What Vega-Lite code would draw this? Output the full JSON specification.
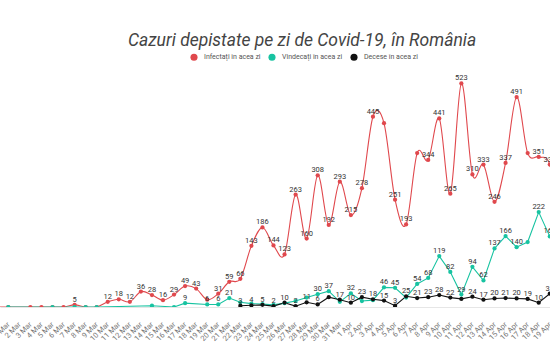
{
  "$schema": "https://vega.github.io/schema/vega-lite/v6.json",
  "autosize": "none",
  "width": 550,
  "height": 245,
  "padding": {"top": 62, "left": 0, "right": 0, "bottom": 55},
  "background": "white",
  "title": {
    "text": "Cazuri depistate pe zi de Covid-19, în România",
    "font": "Roboto",
    "fontStyle": "italic",
    "fontWeight": "normal",
    "fontSize": 17.5,
    "color": "#444444",
    "anchor": "middle",
    "dx": 27,
    "offset": 4
  },
  "config": {
    "view": {"stroke": null},
    "font": "Roboto"
  },
  "data": {
    "values": [
      {"d": "2020-02-29", "s": "Infectați în acea zi", "v": 0, "t": ""},
      {"d": "2020-03-01", "s": "Infectați în acea zi", "v": 0, "t": ""},
      {"d": "2020-03-03", "s": "Infectați în acea zi", "v": 0, "t": ""},
      {"d": "2020-03-04", "s": "Infectați în acea zi", "v": 0, "t": ""},
      {"d": "2020-03-05", "s": "Infectați în acea zi", "v": 0, "t": ""},
      {"d": "2020-03-06", "s": "Infectați în acea zi", "v": 0, "t": ""},
      {"d": "2020-03-07", "s": "Infectați în acea zi", "v": 5, "t": "5"},
      {"d": "2020-03-08", "s": "Infectați în acea zi", "v": 0, "t": ""},
      {"d": "2020-03-09", "s": "Infectați în acea zi", "v": 0, "t": ""},
      {"d": "2020-03-10", "s": "Infectați în acea zi", "v": 12, "t": "12"},
      {"d": "2020-03-11", "s": "Infectați în acea zi", "v": 18, "t": "18"},
      {"d": "2020-03-12", "s": "Infectați în acea zi", "v": 12, "t": "12"},
      {"d": "2020-03-13", "s": "Infectați în acea zi", "v": 36, "t": "36"},
      {"d": "2020-03-14", "s": "Infectați în acea zi", "v": 28, "t": "28"},
      {"d": "2020-03-15", "s": "Infectați în acea zi", "v": 16, "t": "16"},
      {"d": "2020-03-16", "s": "Infectați în acea zi", "v": 29, "t": "29"},
      {"d": "2020-03-17", "s": "Infectați în acea zi", "v": 49, "t": "49"},
      {"d": "2020-03-18", "s": "Infectați în acea zi", "v": 43, "t": "43"},
      {"d": "2020-03-19", "s": "Infectați în acea zi", "v": 17, "t": ""},
      {"d": "2020-03-20", "s": "Infectați în acea zi", "v": 31, "t": "31"},
      {"d": "2020-03-21", "s": "Infectați în acea zi", "v": 59, "t": "59"},
      {"d": "2020-03-22", "s": "Infectați în acea zi", "v": 66, "t": "66"},
      {"d": "2020-03-23", "s": "Infectați în acea zi", "v": 143, "t": "143"},
      {"d": "2020-03-24", "s": "Infectați în acea zi", "v": 186, "t": "186"},
      {"d": "2020-03-25", "s": "Infectați în acea zi", "v": 144, "t": "144"},
      {"d": "2020-03-26", "s": "Infectați în acea zi", "v": 123, "t": "123"},
      {"d": "2020-03-27", "s": "Infectați în acea zi", "v": 263, "t": "263"},
      {"d": "2020-03-28", "s": "Infectați în acea zi", "v": 160, "t": "160"},
      {"d": "2020-03-29", "s": "Infectați în acea zi", "v": 308, "t": "308"},
      {"d": "2020-03-30", "s": "Infectați în acea zi", "v": 192, "t": "192"},
      {"d": "2020-03-31", "s": "Infectați în acea zi", "v": 293, "t": "293"},
      {"d": "2020-04-01", "s": "Infectați în acea zi", "v": 215, "t": "215"},
      {"d": "2020-04-02", "s": "Infectați în acea zi", "v": 278, "t": "278"},
      {"d": "2020-04-03", "s": "Infectați în acea zi", "v": 445, "t": "445"},
      {"d": "2020-04-04", "s": "Infectați în acea zi", "v": 430, "t": ""},
      {"d": "2020-04-05", "s": "Infectați în acea zi", "v": 251, "t": "251"},
      {"d": "2020-04-06", "s": "Infectați în acea zi", "v": 193, "t": "193"},
      {"d": "2020-04-07", "s": "Infectați în acea zi", "v": 360, "t": ""},
      {"d": "2020-04-08", "s": "Infectați în acea zi", "v": 344, "t": "344"},
      {"d": "2020-04-09", "s": "Infectați în acea zi", "v": 441, "t": "441"},
      {"d": "2020-04-10", "s": "Infectați în acea zi", "v": 265, "t": "265"},
      {"d": "2020-04-11", "s": "Infectați în acea zi", "v": 523, "t": "523"},
      {"d": "2020-04-12", "s": "Infectați în acea zi", "v": 310, "t": "310"},
      {"d": "2020-04-13", "s": "Infectați în acea zi", "v": 333, "t": "333"},
      {"d": "2020-04-14", "s": "Infectați în acea zi", "v": 246, "t": "246"},
      {"d": "2020-04-15", "s": "Infectați în acea zi", "v": 337, "t": "337"},
      {"d": "2020-04-16", "s": "Infectați în acea zi", "v": 491, "t": "491"},
      {"d": "2020-04-17", "s": "Infectați în acea zi", "v": 360, "t": ""},
      {"d": "2020-04-18", "s": "Infectați în acea zi", "v": 351, "t": "351"},
      {"d": "2020-04-19", "s": "Infectați în acea zi", "v": 333, "t": "333"},
      {"d": "2020-04-20", "s": "Infectați în acea zi", "v": 190, "t": "190"},

      {"d": "2020-03-01", "s": "Vindecați în acea zi", "v": 0, "t": ""},
      {"d": "2020-03-05", "s": "Vindecați în acea zi", "v": 0, "t": ""},
      {"d": "2020-03-07", "s": "Vindecați în acea zi", "v": 0, "t": ""},
      {"d": "2020-03-08", "s": "Vindecați în acea zi", "v": 0, "t": ""},
      {"d": "2020-03-09", "s": "Vindecați în acea zi", "v": 0, "t": ""},
      {"d": "2020-03-14", "s": "Vindecați în acea zi", "v": 3, "t": ""},
      {"d": "2020-03-16", "s": "Vindecați în acea zi", "v": 0, "t": ""},
      {"d": "2020-03-17", "s": "Vindecați în acea zi", "v": 9, "t": "9"},
      {"d": "2020-03-19", "s": "Vindecați în acea zi", "v": 6, "t": "6"},
      {"d": "2020-03-20", "s": "Vindecați în acea zi", "v": 6, "t": "6"},
      {"d": "2020-03-21", "s": "Vindecați în acea zi", "v": 21, "t": "21"},
      {"d": "2020-03-22", "s": "Vindecați în acea zi", "v": 11, "t": ""},
      {"d": "2020-03-23", "s": "Vindecați în acea zi", "v": 8, "t": ""},
      {"d": "2020-03-24", "s": "Vindecați în acea zi", "v": 7, "t": ""},
      {"d": "2020-03-25", "s": "Vindecați în acea zi", "v": 5, "t": ""},
      {"d": "2020-03-26", "s": "Vindecați în acea zi", "v": 9, "t": ""},
      {"d": "2020-03-27", "s": "Vindecați în acea zi", "v": 14, "t": ""},
      {"d": "2020-03-28", "s": "Vindecați în acea zi", "v": 22, "t": ""},
      {"d": "2020-03-29", "s": "Vindecați în acea zi", "v": 30, "t": "30"},
      {"d": "2020-03-30", "s": "Vindecați în acea zi", "v": 37, "t": "37"},
      {"d": "2020-03-31", "s": "Vindecați în acea zi", "v": 12, "t": ""},
      {"d": "2020-04-01", "s": "Vindecați în acea zi", "v": 32, "t": "32"},
      {"d": "2020-04-02", "s": "Vindecați în acea zi", "v": 14, "t": ""},
      {"d": "2020-04-03", "s": "Vindecați în acea zi", "v": 16, "t": ""},
      {"d": "2020-04-04", "s": "Vindecați în acea zi", "v": 46, "t": "46"},
      {"d": "2020-04-05", "s": "Vindecați în acea zi", "v": 45, "t": "45"},
      {"d": "2020-04-06", "s": "Vindecați în acea zi", "v": 22, "t": ""},
      {"d": "2020-04-07", "s": "Vindecați în acea zi", "v": 54, "t": "54"},
      {"d": "2020-04-08", "s": "Vindecați în acea zi", "v": 68, "t": "68"},
      {"d": "2020-04-09", "s": "Vindecați în acea zi", "v": 119, "t": "119"},
      {"d": "2020-04-10", "s": "Vindecați în acea zi", "v": 82, "t": "82"},
      {"d": "2020-04-11", "s": "Vindecați în acea zi", "v": 29, "t": "29"},
      {"d": "2020-04-12", "s": "Vindecați în acea zi", "v": 94, "t": "94"},
      {"d": "2020-04-13", "s": "Vindecați în acea zi", "v": 62, "t": "62"},
      {"d": "2020-04-14", "s": "Vindecați în acea zi", "v": 137, "t": "137"},
      {"d": "2020-04-15", "s": "Vindecați în acea zi", "v": 166, "t": "166"},
      {"d": "2020-04-16", "s": "Vindecați în acea zi", "v": 140, "t": "140"},
      {"d": "2020-04-17", "s": "Vindecați în acea zi", "v": 152, "t": ""},
      {"d": "2020-04-18", "s": "Vindecați în acea zi", "v": 222, "t": "222"},
      {"d": "2020-04-19", "s": "Vindecați în acea zi", "v": 165, "t": "165"},
      {"d": "2020-04-20", "s": "Vindecați în acea zi", "v": 150, "t": "150"},

      {"d": "2020-03-22", "s": "Decese în acea zi", "v": 3, "t": "3"},
      {"d": "2020-03-23", "s": "Decese în acea zi", "v": 4, "t": "4"},
      {"d": "2020-03-24", "s": "Decese în acea zi", "v": 5, "t": "5"},
      {"d": "2020-03-25", "s": "Decese în acea zi", "v": 2, "t": "2"},
      {"d": "2020-03-26", "s": "Decese în acea zi", "v": 10, "t": "10"},
      {"d": "2020-03-27", "s": "Decese în acea zi", "v": 2, "t": "2"},
      {"d": "2020-03-28", "s": "Decese în acea zi", "v": 11, "t": "11"},
      {"d": "2020-03-29", "s": "Decese în acea zi", "v": 6, "t": "6"},
      {"d": "2020-03-30", "s": "Decese în acea zi", "v": 23, "t": ""},
      {"d": "2020-03-31", "s": "Decese în acea zi", "v": 17, "t": "17"},
      {"d": "2020-04-01", "s": "Decese în acea zi", "v": 10, "t": "10"},
      {"d": "2020-04-02", "s": "Decese în acea zi", "v": 23, "t": "23"},
      {"d": "2020-04-03", "s": "Decese în acea zi", "v": 18, "t": "18"},
      {"d": "2020-04-04", "s": "Decese în acea zi", "v": 15, "t": "15"},
      {"d": "2020-04-05", "s": "Decese în acea zi", "v": 3, "t": "3"},
      {"d": "2020-04-06", "s": "Decese în acea zi", "v": 25, "t": "25"},
      {"d": "2020-04-07", "s": "Decese în acea zi", "v": 21, "t": "21"},
      {"d": "2020-04-08", "s": "Decese în acea zi", "v": 23, "t": "23"},
      {"d": "2020-04-09", "s": "Decese în acea zi", "v": 28, "t": "28"},
      {"d": "2020-04-10", "s": "Decese în acea zi", "v": 22, "t": "22"},
      {"d": "2020-04-11", "s": "Decese în acea zi", "v": 19, "t": ""},
      {"d": "2020-04-12", "s": "Decese în acea zi", "v": 24, "t": "24"},
      {"d": "2020-04-13", "s": "Decese în acea zi", "v": 17, "t": "17"},
      {"d": "2020-04-14", "s": "Decese în acea zi", "v": 20, "t": "20"},
      {"d": "2020-04-15", "s": "Decese în acea zi", "v": 21, "t": "21"},
      {"d": "2020-04-16", "s": "Decese în acea zi", "v": 20, "t": "20"},
      {"d": "2020-04-17", "s": "Decese în acea zi", "v": 19, "t": "19"},
      {"d": "2020-04-18", "s": "Decese în acea zi", "v": 10, "t": "10"},
      {"d": "2020-04-19", "s": "Decese în acea zi", "v": 31, "t": "31"},
      {"d": "2020-04-20", "s": "Decese în acea zi", "v": 20, "t": "20"}
    ]
  },
  "encoding": {
    "x": {
      "field": "d",
      "type": "temporal",
      "scale": {
        "type": "utc",
        "domain": [
          {"year": 2020, "month": 2, "date": 29, "hours": 6, "utc": true},
          {"year": 2020, "month": 4, "date": 19, "hours": 0, "minutes": 30, "utc": true}
        ]
      },
      "axis": {
        "title": null,
        "grid": false,
        "ticks": false,
        "domain": true,
        "domainColor": "#e6e6e6",
        "domainWidth": 1,
        "tickCount": {"interval": "day", "step": 1},
        "labelExpr": "utcFormat(datum.value, '%-d %b')",
        "labelAngle": -45,
        "labelAlign": "right",
        "labelBaseline": "middle",
        "labelPadding": 16,
        "labelFontSize": 7.5,
        "labelColor": "#777777",
        "labelFont": "Roboto",
        "labelOverlap": false,
        "labelBound": false,
        "labelFlush": false
      }
    },
    "y": {
      "field": "v",
      "type": "quantitative",
      "scale": {"domain": [0, 573], "nice": false, "zero": true},
      "axis": null
    },
    "color": {
      "field": "s",
      "type": "nominal",
      "scale": {
        "domain": ["Infectați în acea zi", "Vindecați în acea zi", "Decese în acea zi"],
        "range": ["#e0484d", "#17c3a1", "#111111"]
      },
      "legend": {
        "title": null,
        "orient": "none",
        "legendX": 190,
        "legendY": -9,
        "direction": "horizontal",
        "symbolType": "circle",
        "symbolSize": 50,
        "symbolStrokeWidth": 0,
        "labelFontSize": 7,
        "labelColor": "#555555",
        "labelFont": "Roboto",
        "columnPadding": 7,
        "labelOffset": 6,
        "encode": {
          "symbols": {
            "update": {
              "fill": {"scale": "color", "field": "value"},
              "stroke": {"value": "transparent"},
              "opacity": {"value": 1}
            }
          }
        }
      }
    }
  },
  "layer": [
    {
      "transform": [{"filter": "datum.s === 'Infectați în acea zi'"}],
      "mark": {"type": "line", "interpolate": "cardinal", "strokeWidth": 1.1, "clip": true}
    },
    {
      "transform": [{"filter": "datum.s !== 'Infectați în acea zi'"}],
      "mark": {"type": "line", "strokeWidth": 1.1, "clip": true}
    },
    {
      "mark": {"type": "point", "filled": true, "opacity": 1, "size": 18, "clip": true}
    },
    {
      "transform": [{"filter": "datum.t !== ''"}],
      "mark": {"type": "text", "baseline": "alphabetic", "align": "center", "dy": -3, "fontSize": 7.5, "font": "Roboto", "color": "#333333"},
      "encoding": {"text": {"field": "t"}, "color": {"value": "#333333"}}
    }
  ]
}
